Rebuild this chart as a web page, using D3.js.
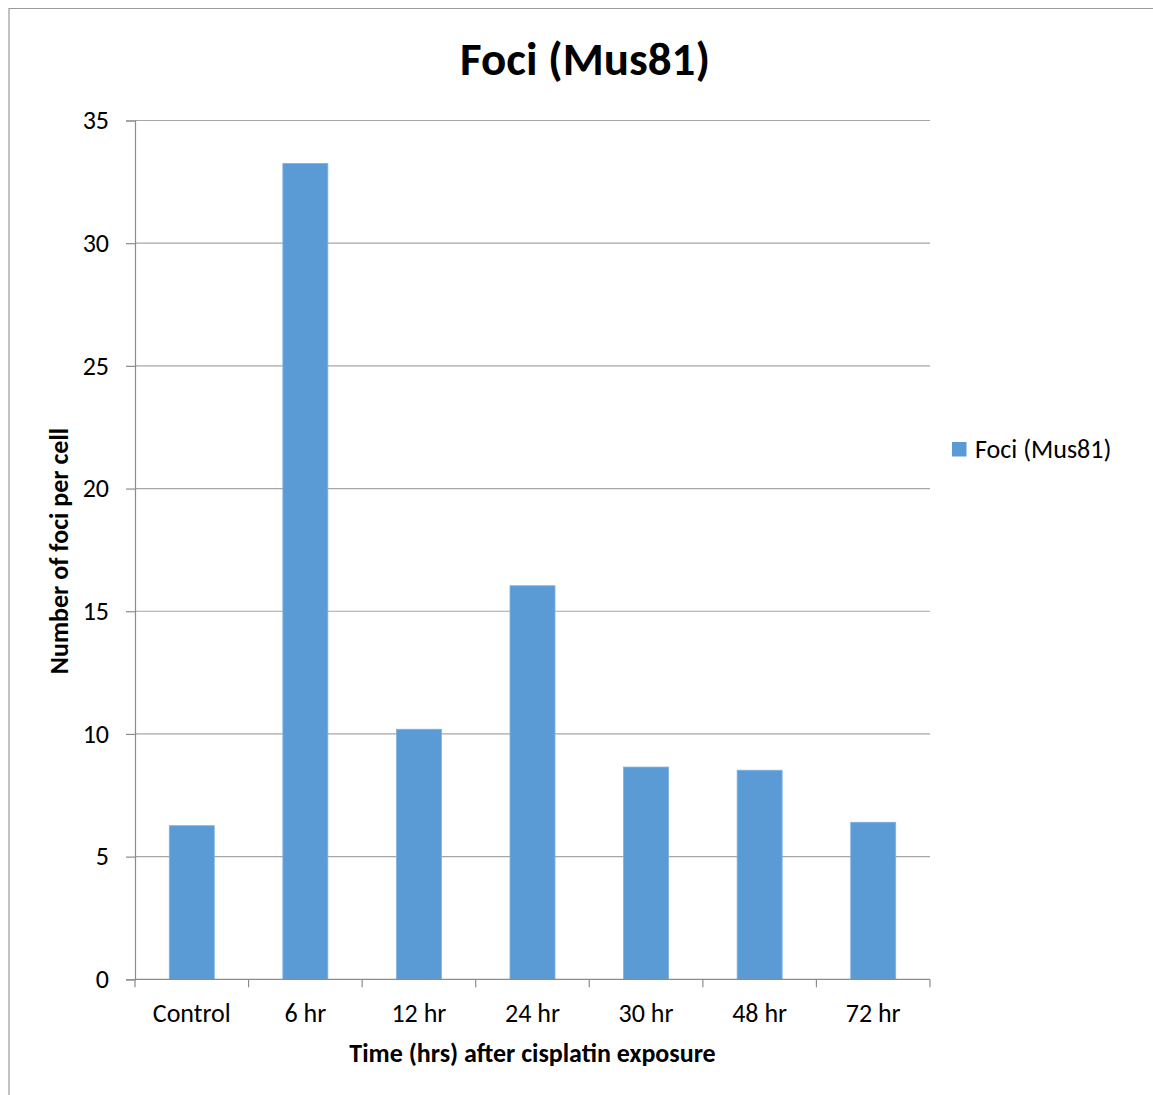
<!DOCTYPE html>
<html>
<head>
<meta charset="utf-8">
<script src="https://cdn.jsdelivr.net/npm/d3@7"></script>
<style>
  html, body { margin: 0; padding: 0; background: #fff; }
  svg { display: block; }
  text { font-family: Carlito, Calibri, Lato, sans-serif; fill: #000; }
</style>
</head>
<body>
<svg id="chart" width="1153" height="1095"></svg>
<script>
// Mean Mus81 foci per cell at each time point after cisplatin exposure
const categories = ["Control", "6 hr", "12 hr", "24 hr", "30 hr", "48 hr", "72 hr"];
const fociValues = [6.26, 33.25, 10.19, 16.04, 8.65, 8.52, 6.40];
const yTicks = [0, 5, 10, 15, 20, 25, 30, 35];
const seriesName = "Foci (Mus81)";
const chartTitle = "Foci (Mus81)";
const xTitle = "Time (hrs) after cisplatin exposure";
const yTitle = "Number of foci per cell";

const svg = d3.select("#chart");
const W = 1153, H = 1095;
const plot = { left: 135, right: 930, top: 120.5, bottom: 979.3 };
const barColor = "#5B9BD5";
const gridColor = "#A6A6A6";
const axisColor = "#8C8C8C";
const labelSize = 26;
const axisTitleSize = 26;

// chart frame (top and left edges visible)
svg.append("path")
  .attr("d", `M9,${H} L9,8.5 L${W},8.5`)
  .attr("fill", "none")
  .attr("stroke", "#9A9A9A")
  .attr("stroke-width", 1.2);

const x = d3.scaleBand()
  .domain(categories)
  .range([plot.left, plot.right])
  .paddingInner(0.604)
  .paddingOuter(0.302);

const xBound = d3.scaleBand()
  .domain(categories)
  .range([plot.left, plot.right]);

const y = d3.scaleLinear()
  .domain([0, 35])
  .range([plot.bottom, plot.top]);

// horizontal gridlines
svg.append("g")
  .selectAll("line")
  .data(yTicks.filter(t => t > 0))
  .join("line")
  .attr("x1", plot.left)
  .attr("x2", plot.right)
  .attr("y1", d => y(d))
  .attr("y2", d => y(d))
  .attr("stroke", gridColor)
  .attr("stroke-width", 1.2);

// bars
svg.append("g")
  .selectAll("rect")
  .data(categories.map((c, i) => ({ c, v: fociValues[i] })))
  .join("rect")
  .attr("x", d => x(d.c))
  .attr("width", x.bandwidth())
  .attr("y", d => y(d.v))
  .attr("height", d => y(0) - y(d.v))
  .attr("fill", barColor)
  .attr("stroke", "#7FB0DF")
  .attr("stroke-width", 0.8);

// y axis
const yAxis = d3.axisLeft(y)
  .tickValues(yTicks)
  .tickSize(9)
  .tickPadding(17)
  .tickFormat(d3.format("d"));
const gy = svg.append("g")
  .attr("transform", `translate(${plot.left},0)`)
  .call(yAxis);
gy.select(".domain").attr("stroke", axisColor).attr("stroke-width", 1.2);
gy.selectAll(".tick line").attr("stroke", axisColor).attr("stroke-width", 1.2);
gy.selectAll(".tick text")
  .attr("font-size", labelSize)
  .style("font-family", "Carlito, Calibri, Lato, sans-serif");

// x axis: ticks at category boundaries, labels at centres
const gx = svg.append("g")
  .attr("transform", `translate(0,${plot.bottom})`);
gx.append("line")
  .attr("x1", plot.left).attr("x2", plot.right)
  .attr("stroke", axisColor).attr("stroke-width", 1.2);
const bounds = categories.map(c => xBound(c)).concat([plot.right]);
gx.selectAll("line.tk")
  .data(bounds)
  .join("line")
  .attr("class", "tk")
  .attr("x1", d => d).attr("x2", d => d)
  .attr("y1", 0).attr("y2", 8)
  .attr("stroke", axisColor).attr("stroke-width", 1.2);
gx.selectAll("text")
  .data(categories)
  .join("text")
  .attr("x", d => xBound(d) + xBound.bandwidth() / 2)
  .attr("y", 42.5)
  .attr("text-anchor", "middle")
  .attr("font-size", labelSize)
  .text(d => d);

// titles
svg.append("text")
  .attr("x", 585)
  .attr("y", 75)
  .attr("text-anchor", "middle")
  .attr("font-size", 47)
  .attr("font-weight", "bold")
  .text(chartTitle);

svg.append("text")
  .attr("x", (plot.left + plot.right) / 2)
  .attr("y", 1062)
  .attr("text-anchor", "middle")
  .attr("font-size", axisTitleSize)
  .attr("font-weight", "bold")
  .text(xTitle);

svg.append("text")
  .attr("transform", `translate(68,551) rotate(-90)`)
  .attr("text-anchor", "middle")
  .attr("font-size", axisTitleSize)
  .attr("font-weight", "bold")
  .text(yTitle);

// legend
const legend = svg.append("g").attr("transform", "translate(952,442)");
legend.append("rect")
  .attr("width", 14.5).attr("height", 14.5)
  .attr("fill", barColor);
legend.append("text")
  .attr("x", 23)
  .attr("y", 16)
  .attr("font-size", labelSize)
  .text(seriesName);
</script>
</body>
</html>
